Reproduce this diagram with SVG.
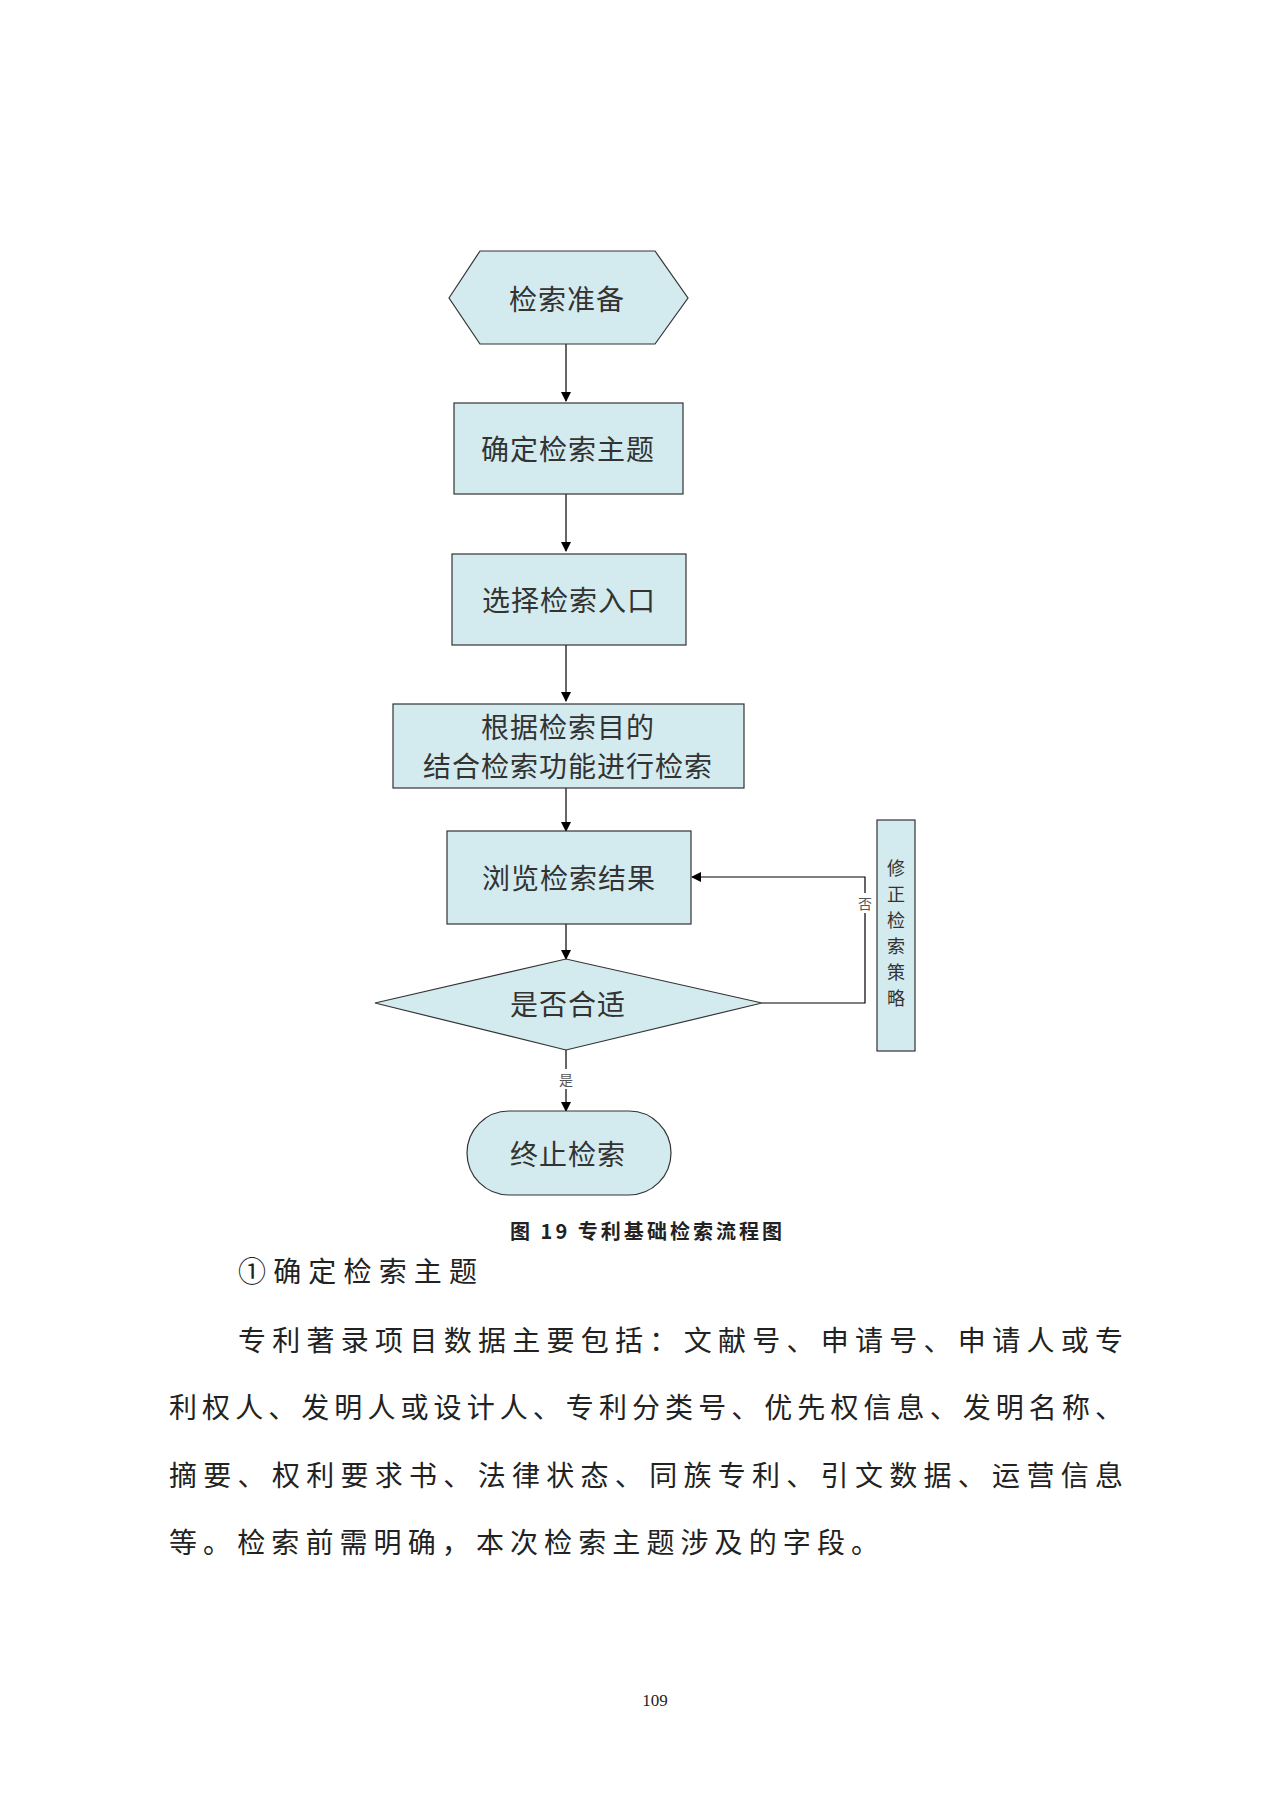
<svg xmlns="http://www.w3.org/2000/svg" width="1280" height="1810" viewBox="0 0 1280 1810">
<defs>
<style>
.n{fill:#d3ebef;stroke:#333;stroke-width:1.2}
.t{font-family:"Noto Sans CJK SC",sans-serif;font-size:28px;letter-spacing:1px;fill:#333;text-anchor:middle;dominant-baseline:central}
.s{font-family:"Noto Sans CJK SC",sans-serif;font-size:18px;fill:#333;text-anchor:middle;dominant-baseline:central}
.c{stroke:#000;stroke-width:1.2;fill:none}
.b{font-family:"Noto Sans CJK SC",sans-serif;font-size:28px;fill:#222}
</style>
<marker id="a" markerWidth="10" markerHeight="10" refX="9" refY="5" orient="auto" markerUnits="userSpaceOnUse"><path d="M0,0 L10,5 L0,10 z" fill="#000"/></marker>
</defs>
<rect width="1280" height="1810" fill="#fff"/>
<g id="connectors">
<line class="c" x1="566" y1="343" x2="566" y2="401" marker-end="url(#a)"/>
<line class="c" x1="566" y1="493" x2="566" y2="551" marker-end="url(#a)"/>
<line class="c" x1="566" y1="643" x2="566" y2="701" marker-end="url(#a)"/>
<line class="c" x1="566" y1="785" x2="566" y2="831" marker-end="url(#a)"/>
<line class="c" x1="566" y1="924" x2="566" y2="959" marker-end="url(#a)"/>
<line class="c" x1="566" y1="1050" x2="566" y2="1111" marker-end="url(#a)"/>
<polyline class="c" points="762,1003 865,1003 865,877 692,877" marker-end="url(#a)"/>
<rect x="858" y="893" width="14" height="20" fill="#fff"/>
<text x="865" y="903" font-family="Noto Sans CJK SC,sans-serif" font-size="14" fill="#555" text-anchor="middle" dominant-baseline="central">否</text>
<rect x="558" y="1069" width="16" height="20" fill="#fff"/>
<text x="566" y="1079" font-family="Noto Sans CJK SC,sans-serif" font-size="14" fill="#555" text-anchor="middle" dominant-baseline="central">是</text>
</g>
<g id="n1"><polygon class="n" points="449,298 480,251 655,251 688,298 655,344 480,344"/><text class="t" x="567" y="298">检索准备</text></g>
<g id="n2"><rect class="n" x="454" y="403" width="229" height="91"/><text class="t" x="568" y="448">确定检索主题</text></g>
<g id="n3"><rect class="n" x="452" y="554" width="234" height="91"/><text class="t" x="569" y="599">选择检索入口</text></g>
<g id="n4"><rect class="n" x="393" y="704" width="351" height="84"/><text class="t" x="568" y="726">根据检索目的</text><text class="t" x="568" y="765">结合检索功能进行检索</text></g>
<g id="n5"><rect class="n" x="447" y="831" width="244" height="93"/><text class="t" x="569" y="877">浏览检索结果</text></g>
<g id="n6"><polygon class="n" points="375,1003 566,959 762,1003 566,1050"/><text class="t" x="568" y="1003">是否合适</text></g>
<g id="n7"><rect class="n" x="467" y="1111" width="204" height="84" rx="42"/><text class="t" x="568" y="1153">终止检索</text></g>
<g id="n8"><rect class="n" x="877" y="820" width="38" height="231"/>
<text class="s" x="896" y="867">修</text><text class="s" x="896" y="893">正</text><text class="s" x="896" y="919">检</text><text class="s" x="896" y="945">索</text><text class="s" x="896" y="971">策</text><text class="s" x="896" y="997">略</text></g>
<text x="510" y="1230" font-family="Noto Sans CJK SC,sans-serif" font-size="20" font-weight="bold" fill="#222" dominant-baseline="central" textLength="272">图 19 专利基础检索流程图</text>
<text class="b" x="238" y="1270" font-size="30" dominant-baseline="central" textLength="239">①确定检索主题</text>
<text class="b" x="238" y="1339" dominant-baseline="central" textLength="885">专利著录项目数据主要包括：文献号、申请号、申请人或专</text>
<text class="b" x="169" y="1406" dominant-baseline="central" textLength="954">利权人、发明人或设计人、专利分类号、优先权信息、发明名称、</text>
<text class="b" x="169" y="1474" dominant-baseline="central" textLength="954">摘要、权利要求书、法律状态、同族专利、引文数据、运营信息</text>
<text class="b" x="169" y="1541" dominant-baseline="central" textLength="710">等。检索前需明确，本次检索主题涉及的字段。</text>
<text x="655" y="1700" font-family="Liberation Serif,serif" font-size="17" fill="#222" text-anchor="middle" dominant-baseline="central">109</text>
</svg>
